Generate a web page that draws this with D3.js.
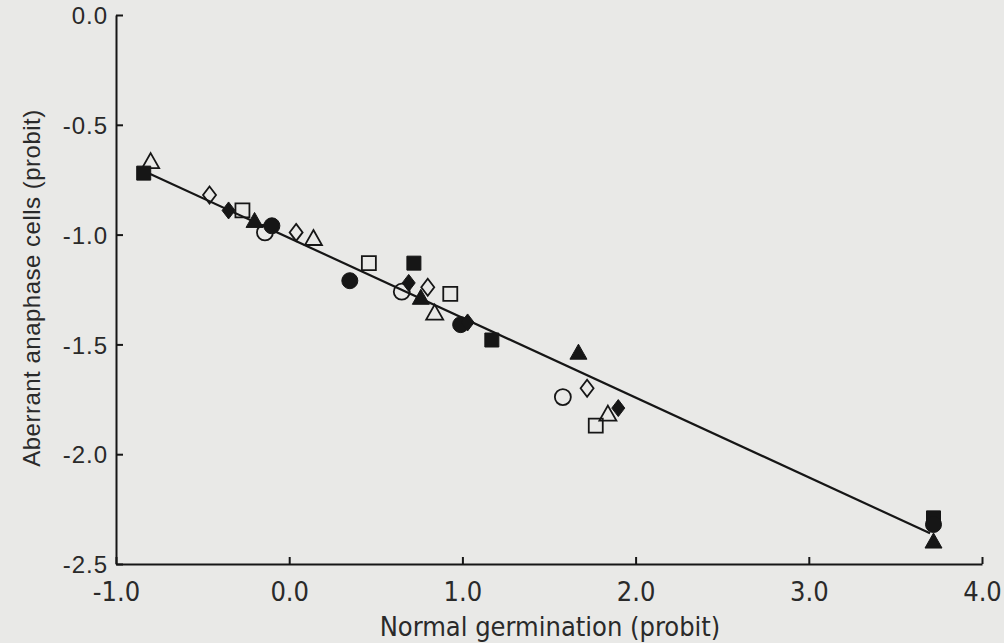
<!DOCTYPE html>
<html>
<head lang="en">
    <meta charset="UTF-8">
    <title>Aberrant anaphase vs normal germination</title>
    <script src="https://cdnjs.cloudflare.com/ajax/libs/d3/7.8.5/d3.min.js" charset="utf-8"></script>
    <style>
        body { margin: 0; background: #e9e9e7; }
        svg { display: block; }
    </style>
</head>

<body>
<div id="chart"></div>
<script>

// data (probit units)
var filledSquareX = [-0.84, 0.72, 1.17, 3.72],  filledSquareY = [-0.72, -1.13, -1.48, -2.29];
var openSquareX   = [-0.27, 0.46, 0.93, 1.77],  openSquareY   = [-0.89, -1.13, -1.27, -1.87];
var filledCircleX = [-0.10, 0.35, 0.99, 3.72],  filledCircleY = [-0.96, -1.21, -1.41, -2.32];
var openCircleX   = [-0.14, 0.65, 1.58],        openCircleY   = [-0.99, -1.26, -1.74];
var filledTriX    = [-0.20, 0.76, 1.67, 3.72],  filledTriY    = [-0.94, -1.29, -1.54, -2.40];
var openTriX      = [-0.80, 0.14, 0.84, 1.84],  openTriY      = [-0.67, -1.02, -1.36, -1.82];
var filledDiaX    = [-0.35, 0.69, 1.03, 1.90],  filledDiaY    = [-0.89, -1.22, -1.40, -1.79];
var openDiaX      = [-0.46, 0.04, 0.80, 1.72],  openDiaY      = [-0.82, -0.99, -1.24, -1.70];

// fitted regression line end points
var fitX = [-0.84, 3.70], fitY = [-0.71, -2.36];

var xTicks = [-1, 0, 1, 2, 3, 4];
var yTicks = [0, -0.5, -1, -1.5, -2, -2.5];

var svgWidth = 1004, svgHeight = 643;
var margin = {top: 15, bottom: 79, left: 116, right: 22};
var ink = '#161616', textInk = '#2a2a2a', paper = '#e9e9e7';

var svg = d3.select('#chart').append('svg')
    .attr('width', svgWidth)
    .attr('height', svgHeight);

svg.append('rect').attr('width', svgWidth).attr('height', svgHeight).attr('fill', paper);

var x = d3.scaleLinear().domain([-1, 4]).range([margin.left, svgWidth - margin.right]);
var y = d3.scaleLinear().domain([-2.5, 0]).range([svgHeight - margin.bottom, margin.top]);

function fmt(d){ return d3.format('.1f')(d).replace('\u2212', '-'); }

// axes, ticks point inward
var xAxis = d3.axisBottom(x).tickValues(xTicks).tickSizeInner(-7).tickSizeOuter(0)
    .tickPadding(18).tickFormat(fmt);
var yAxis = d3.axisLeft(y).tickValues(yTicks).tickSizeInner(-7).tickSizeOuter(0)
    .tickPadding(8).tickFormat(fmt);

var gx = svg.append('g').attr('transform', 'translate(0,' + y(-2.5) + ')').call(xAxis);
var gy = svg.append('g').attr('transform', 'translate(' + x(-1) + ',0)').call(yAxis);

[gx, gy].forEach(function(g){
    g.select('.domain').attr('stroke', ink).attr('stroke-width', 2);
    g.selectAll('.tick line').attr('stroke', ink).attr('stroke-width', 2);
});
gx.selectAll('.tick text')
    .attr('fill', textInk)
    .style('font-family', '"Liberation Sans Narrow", "DejaVu Sans Condensed", sans-serif')
    .style('font-size', '27px');
gy.selectAll('.tick text')
    .attr('fill', textInk)
    .attr('dy', '0.36em')
    .style('font-family', '"Liberation Sans", Arial, sans-serif')
    .style('font-size', '24px')
    .style('letter-spacing', '1px');

// axis titles
svg.append('text')
    .attr('x', 550).attr('y', 636)
    .attr('text-anchor', 'middle')
    .attr('fill', textInk)
    .style('font-family', '"Liberation Sans Narrow", "DejaVu Sans Condensed", sans-serif')
    .style('font-size', '27px')
    .text('Normal germination (probit)');

svg.append('text')
    .attr('transform', 'translate(40,288) rotate(-90)')
    .attr('text-anchor', 'middle')
    .attr('fill', textInk)
    .style('font-family', '"Liberation Sans", Arial, sans-serif')
    .style('font-size', '24px')
    .style('letter-spacing', '0.5px')
    .text('Aberrant anaphase cells (probit)');

// regression line
svg.append('line')
    .attr('x1', x(fitX[0])).attr('y1', y(fitY[0]))
    .attr('x2', x(fitX[1])).attr('y2', y(fitY[1]))
    .attr('stroke', ink).attr('stroke-width', 2.2);

// symbols
function pts(xs, ys){ return xs.map(function(v, i){ return {x: v, y: ys[i]}; }); }

var series = [
    {data: pts(openSquareX, openSquareY),     shape: 'square',   filled: false},
    {data: pts(openCircleX, openCircleY),     shape: 'circle',   filled: false},
    {data: pts(openTriX, openTriY),           shape: 'triangle', filled: false},
    {data: pts(openDiaX, openDiaY),           shape: 'diamond',  filled: false},
    {data: pts(filledSquareX, filledSquareY), shape: 'square',   filled: true},
    {data: pts(filledCircleX, filledCircleY), shape: 'circle',   filled: true},
    {data: pts(filledTriX, filledTriY),       shape: 'triangle', filled: true},
    {data: pts(filledDiaX, filledDiaY),       shape: 'diamond',  filled: true}
];

function shapePath(shape){
    if (shape == 'square') return 'M-7,-7H7V7H-7Z';
    if (shape == 'circle') return d3.symbol().type(d3.symbolCircle).size(Math.PI * 64)();
    if (shape == 'triangle') return 'M0,-9L8.5,6H-8.5Z';
    return 'M0,-8.5L6.5,0L0,8.5L-6.5,0Z';
}

series.forEach(function(s){
    svg.append('g').selectAll('path').data(s.data).enter().append('path')
        .attr('transform', function(d){ return 'translate(' + x(d.x) + ',' + y(d.y) + ')'; })
        .attr('d', shapePath(s.shape))
        .attr('fill', s.filled ? ink : paper)
        .attr('fill-opacity', s.filled ? 1 : 0)
        .attr('stroke', ink)
        .attr('stroke-width', s.filled ? 1 : 1.8);
});

</script>
</body>
</html>
